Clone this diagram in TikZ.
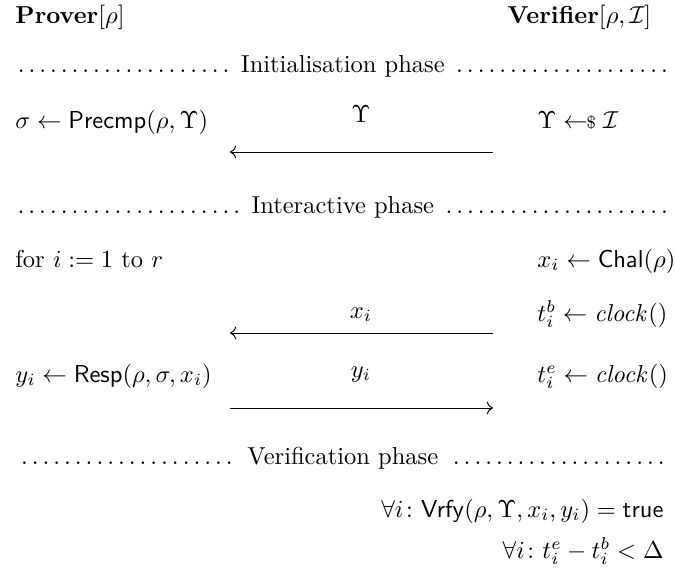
\documentclass[tikz,border=0pt]{standalone}
\usepackage{amsmath,amssymb}
\usepackage{tikz}
\usetikzlibrary{arrows.meta,calc,positioning}
\newcommand{\precmp}{\mathsf{Precmp}}
\newcommand{\chal}{\mathsf{Chal}}
\newcommand{\resp}{\mathsf{Resp}}
\newcommand{\vrfy}{\mathsf{Vrfy}}
\newcommand{\truev}{\mathsf{true}}
\newcommand{\clk}{\mathit{clock}}
\newcommand{\smpl}{\mathrel{\leftarrow\!\!\mbox{\scriptsize\$}}}
\tikzset{
  txt/.style={anchor=base west,inner sep=0pt},
  txtr/.style={anchor=base east,inner sep=0pt},
  msg/.style={anchor=base,inner sep=0pt},
  phase/.style={anchor=base west,inner sep=0pt,text width=268pt},
}

\begin{document}
\begin{tikzpicture}[x=0.01435cm,y=-0.01435cm,>=To]
\useasboundingbox (0,0) rectangle (675,569);
% parties
\node[txt] (prover) at (15,23) {\textbf{Prover}$[\rho]$};
\node[txt] (verifier) at (507,23) {\textbf{Verifier}$[\rho,\mathcal{I}]$};
% initialisation
\node[phase] (initph) at (14,72) {\dotfill\ Initialisation phase\ \dotfill};
\node[txt] (precmp) at (15,128) {$\sigma \leftarrow \precmp(\rho,\Upsilon)$};
\node[txt] (sampleU) at (537,128) {$\Upsilon \smpl \mathcal{I}$};
\coordinate (aR) at (493,152); \coordinate (aL) at (230,152);
\draw[->] (aR) -- (aL);
\node[msg] (msgU) at (361,122) {$\Upsilon$};
% interactive
\node[phase] (interph) at (14,213) {\dotfill\ Interactive phase\ \dotfill};
\node[txt] (loop) at (15,267) {for $i := 1$ to $r$};
\node[txt] (chal) at (537,267) {$x_i \leftarrow \chal(\rho)$};
\node[txt] (tb) at (537,321) {$t_i^b \leftarrow \clk()$};
\coordinate (bR) at (493,333); \coordinate (bL) at (230,333);
\draw[->] (bR) -- (bL);
\node[msg] (msgX) at (361,318) {$x_i$};
\node[txt] (resp) at (15,382) {$y_i \leftarrow \resp(\rho,\sigma,x_i)$};
\node[txt] (te) at (537,382) {$t_i^e \leftarrow \clk()$};
\coordinate (cL) at (230,408); \coordinate (cR) at (493,408);
\draw[->] (cL) -- (cR);
\node[msg] (msgY) at (361,377) {$y_i$};
% verification
\node[phase] (verph) at (14,464) {\dotfill\ Verification phase\ \dotfill};
\node[txtr] (vrfy) at (664,517) {$\forall i\colon \vrfy(\rho,\Upsilon,x_i,y_i) = \truev$};
\node[txtr] (delta) at (664,558) {$\forall i\colon t_i^e - t_i^b < \Delta$};
\end{tikzpicture}
\end{document}
